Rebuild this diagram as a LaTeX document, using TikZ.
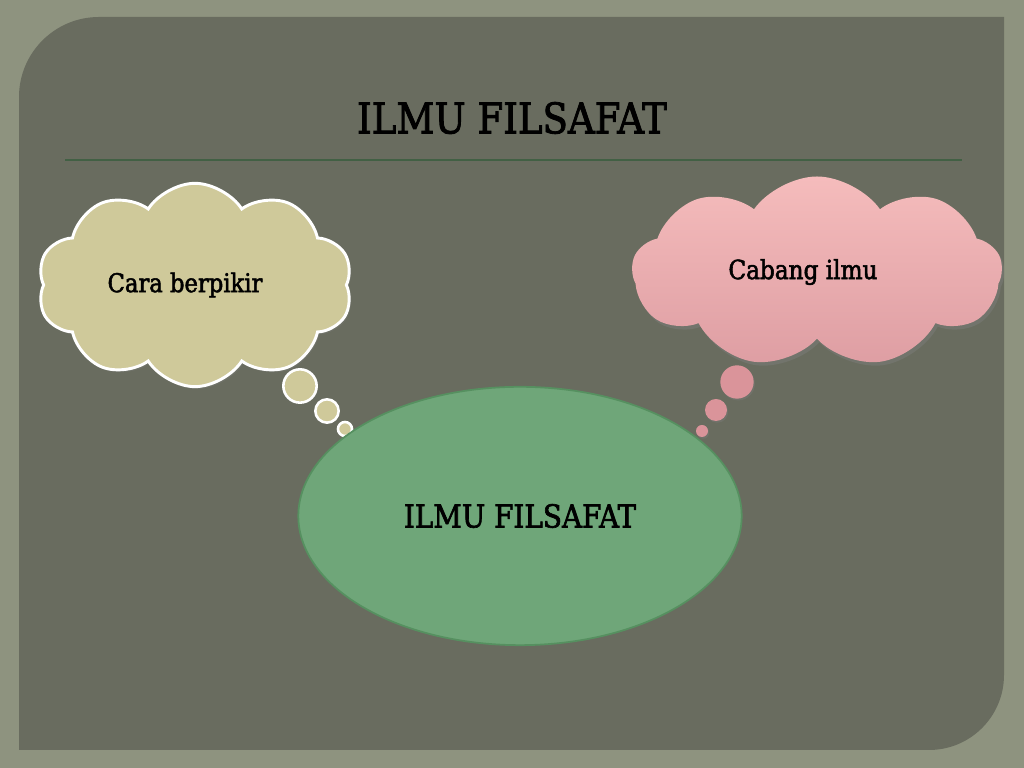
\documentclass[tikz,border=0pt]{standalone}
\usepackage{fontspec}
\setmainfont[FakeStretch=0.88,FakeBold=2]{DejaVu Serif}
\usetikzlibrary{shapes.geometric,shapes.symbols,shadows}

\definecolor{outerbg}{RGB}{142,147,127}
\definecolor{panelbg}{RGB}{105,108,95}
\definecolor{rulegreen}{RGB}{66,96,68}
\definecolor{tancloud}{RGB}{207,201,154}
\definecolor{pinktop}{RGB}{245,188,188}
\definecolor{pinkbot}{RGB}{222,158,163}
\definecolor{pinkdot}{RGB}{218,148,154}
\definecolor{ovalfill}{RGB}{111,166,121}
\definecolor{ovalline}{RGB}{86,144,96}

\tikzset{
  tancl/.style={cloud, cloud puffs=10, cloud puff arc=115, cloud ignores aspect,
    fill=tancloud, draw=white, line width=2.5pt,
    drop shadow={opacity=0.3,shadow xshift=1.5pt,shadow yshift=-2pt}},
  pinkcl/.style={cloud, cloud puffs=9, cloud puff arc=110, cloud ignores aspect,
    top color=pinktop, bottom color=pinkbot, draw=none,
    drop shadow={opacity=0.4,shadow xshift=2pt,shadow yshift=-3pt}},
  tandot/.style={circle, fill=tancloud, draw=white, line width=2.2pt, inner sep=0pt},
  pinkdot/.style={circle, fill=pinkdot, draw=none, inner sep=0pt,
    drop shadow={opacity=0.35,shadow xshift=1pt,shadow yshift=-1.5pt}},
  oval/.style={ellipse, fill=ovalfill, draw=ovalline, line width=1.5pt},
}

\begin{document}
\begin{tikzpicture}[x=0.03cm,y=0.03cm]

 % slide background and panel
 \fill[outerbg] (0,0) rectangle (1024,768);
 \useasboundingbox (0,0) rectangle (1024,768);
 \fill[panelbg] (19,18) -- (19,671) arc[start angle=180,end angle=90,radius=80]
   -- (1004,751) -- (1004,93) arc[start angle=0,end angle=-90,radius=75] -- cycle;

 % title and rule
 \node (title) at (512,650) {\fontsize{36}{40}\selectfont ILMU FILSAFAT};
 \draw[rulegreen, line width=1.2pt] (65,608) -- (962,608);

 % left thought cloud (text sits a little left of centre)
 \node[tancl, minimum width=9.45cm, minimum height=6.1cm] (cara) at (195,483)
   {\fontsize{22}{26}\selectfont\hspace*{-0.6cm}Cara berpikir};
 \node[tandot, minimum size=1.0cm]  (cdot1) at (300,382) {};
 \node[tandot, minimum size=0.7cm]  (cdot2) at (327,357) {};
 \node[tandot, minimum size=0.42cm] (cdot3) at (345,339) {};

 % right thought cloud
 \node[pinkcl, minimum width=11.1cm, minimum height=5.73cm] (cabang) at (817,496)
   {\fontsize{22.5}{26}\selectfont\hspace*{-0.84cm}Cabang ilmu};
 \node[pinkdot, minimum size=1.0cm]  (pdot1) at (737,386) {};
 \node[pinkdot, minimum size=0.66cm] (pdot2) at (716,358) {};
 \node[pinkdot, minimum size=0.36cm] (pdot3) at (702,337) {};

 % centre oval
 \node[oval, minimum width=13.3cm, minimum height=7.75cm] (filsafat) at (520,252)
   {\fontsize{27}{30}\selectfont ILMU FILSAFAT};

\end{tikzpicture}
\end{document}
